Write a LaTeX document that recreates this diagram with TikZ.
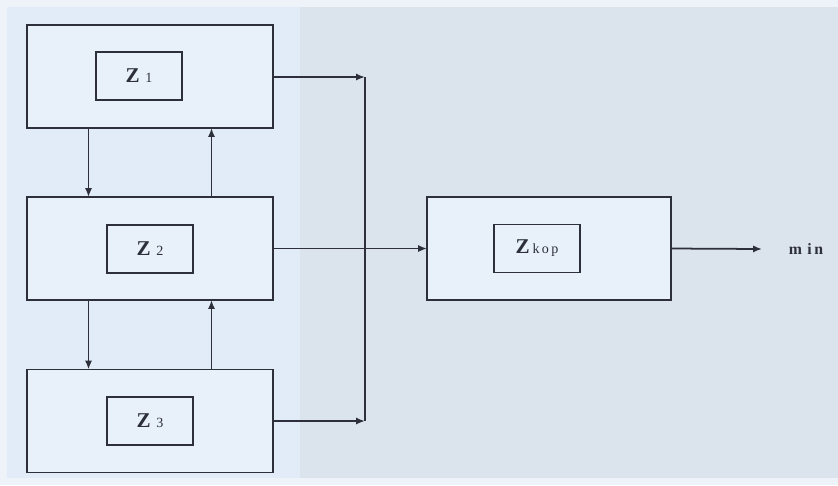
\documentclass[tikz,border=0pt]{standalone}
\usepackage{fontspec}
\setmainfont{Liberation Serif}
\usetikzlibrary{arrows.meta,calc}

\definecolor{paper}{RGB}{238,243,249}
\definecolor{leftbg}{RGB}{226,236,248}
\definecolor{rightbg}{RGB}{219,227,236}
\definecolor{boxbg}{RGB}{232,240,250}
\definecolor{ink}{RGB}{45,48,58}

\begin{document}
\begin{tikzpicture}[x=0.02cm,y=-0.02cm,
    line width=1pt, color=ink, >={Latex[length=5pt,width=4pt]},
    outer/.style={draw=ink,fill=boxbg,minimum width=4.92cm,minimum height=2.06cm,inner sep=0pt,outer sep=0pt},
    inner/.style={draw=ink,minimum width=1.72cm,minimum height=0.96cm,inner sep=0pt,outer sep=0pt,text=ink}]
    \useasboundingbox (0,0) rectangle (838,485);
    % background of the sheet
    \fill[paper] (0,0) rectangle (838,485);
    \fill[leftbg] (7,7) rectangle (300,478);
    \fill[rightbg] (300,7) rectangle (838,478);
    % the three subsystems
    \node[outer] (box1) at (150,76.5) {}; \node[inner] (z1) at (139,76) {{\large\bfseries Z}\,\,{\footnotesize 1}};
    \node[outer] (box2) at (150,248.5) {}; \node[inner] (z2) at (150,249) {{\large\bfseries Z}\,\,{\footnotesize 2}};
    \node[outer] (box3) at (150,421) {}; \node[inner] (z3) at (150,421) {{\large\bfseries Z}\,\,{\footnotesize 3}};
    % the whole system
    \node[outer,minimum width=4.88cm] (kop) at (549,248.5) {};
    \node[inner] (zkop) at (537,248.5) {{\large\bfseries Z}\,{\footnotesize k\,o\,p}};
    \node[text=ink,anchor=west,inner sep=0pt] (min) at (788,249) {\bfseries\small m\,\,i\,n};
    % links between neighbours
    \draw[->] ($(box1.south west)!0.25!(box1.south east)$) -- ($(box2.north west)!0.25!(box2.north east)$);
    \draw[->] ($(box2.north west)!0.75!(box2.north east)$) -- ($(box1.south west)!0.75!(box1.south east)$);
    \draw[->] ($(box2.south west)!0.25!(box2.south east)$) -- ($(box3.north west)!0.25!(box3.north east)$);
    \draw[->] ($(box3.north west)!0.75!(box3.north east)$) -- ($(box2.south west)!0.75!(box2.south east)$);
    % collecting line
    \coordinate (bus1) at (365,77); \coordinate (bus3) at (365,421);
    \draw (bus1) -- (bus3);
    \draw[->] (box1.east |- bus1) -- (bus1);
    \draw[->] (box3.east) -- (bus3);
    \draw[->] (box2.east) -- (kop.west);
    \coordinate (out) at (762,249);
    \draw[->] (kop.east) -- (out);
\end{tikzpicture}
\end{document}
